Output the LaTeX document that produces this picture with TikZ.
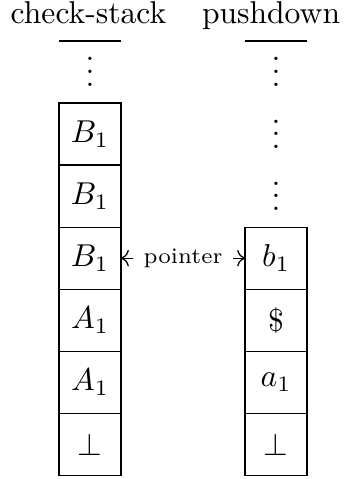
\documentclass[tikz,border=0pt]{standalone}
\usetikzlibrary{
	arrows.meta,
	calc,
	positioning
}

\begin{document}
\begin{tikzpicture}[
		cell/.style={draw, minimum size=0.69cm, inner sep=0pt, outer sep=0pt},
		gap/.style={minimum size=0.69cm, inner sep=0pt, outer sep=0pt, text height=9pt, text depth=0pt},
		ptrarrow/.style={-{Computer Modern Rightarrow}, shorten <=3.2pt}
	]
		\useasboundingbox (0,0) rectangle (3.859,-5.327);
		% titles
		\node[anchor=base] (cstitle) at (0.984,-0.259) {check-stack};
		\node[anchor=base] (pdtitle) at (3.014,-0.259) {pushdown};
		% check-stack
		\node[gap] (c0) at (1.001,-0.801) {$\vdots$};
		\node[cell, below=0pt of c0] (c1) {$B_1$};
		\node[cell, below=0pt of c1] (c2) {$B_1$};
		\node[cell, below=0pt of c2] (c3) {$B_1$};
		\node[cell, below=0pt of c3] (c4) {$A_1$};
		\node[cell, below=0pt of c4] (c5) {$A_1$};
		\node[cell, below=0pt of c5] (c6) {$\bot$};
		\draw (c0.north west) -- (c0.north east);
		% pushdown
		\node[gap] (p0) at (3.070,-0.801) {$\vdots$};
		\node[gap, below=0pt of p0] (p1) {$\vdots$};
		\node[gap, below=0pt of p1] (p2) {$\vdots$};
		\node[cell, below=0pt of p2] (p3) {$b_1$};
		\node[cell, below=0pt of p3] (p4) {\$};
		\node[cell, below=0pt of p4] (p5) {$a_1$};
		\node[cell, below=0pt of p5] (p6) {$\bot$};
		\draw (p0.north west) -- (p0.north east);
		% pointer
		\node[font=\scriptsize, inner sep=0pt] (ptr) at ($(c3.east)!0.5!(p3.west)$) {pointer};
		\draw[ptrarrow] (ptr.west) -- (c3.east);
		\draw[ptrarrow] (ptr.east) -- (p3.west);
	\end{tikzpicture}
\end{document}
